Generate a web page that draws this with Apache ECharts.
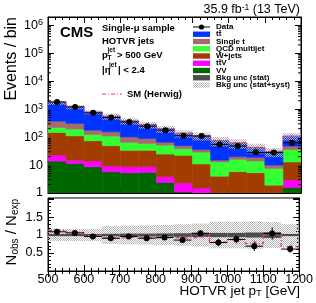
<!DOCTYPE html>
<html><head><meta charset="utf-8">
<script src="https://cdn.jsdelivr.net/npm/echarts@6/dist/echarts.min.js"></script>
<style>html,body{margin:0;padding:0;background:#fff}#c{width:316px;height:303px}</style>
</head><body><div id="c"></div>
<script>
// ---- data ----
const edges   = [500,550,600,650,700,750,800,850,900,950,1000,1050,1100,1150,1200];
const vv      = [13.9,11.5,8.7,5.8,5.3,5.5,2.4,1.1,0.9,0.6,0.5,0.5,0.4,1.6];
const ttv     = [8.9,3.5,5.3,3.4,3.4,3.2,1.4,1.2,0.6,0.4,0.4,0.4,0.3,1.3];
const wjets   = [124,96,60,40,25,25,21,20,9.5,3,4.9,4.4,1.2,10];
const qcd     = [75,83,51,60,31,25,27,16,18,9,10.2,8.7,5.7,23];
const singleT = [151,116,53,46,37,31,14,11,7,2,4,5,2.4,12];
const ttbar   = [1357,880,607,403,276,188,132,87,75,59,41,23,20,60];
const dataObs = [1820,1210,740,505,350,247,178,112,109,55,48,28.5,28,63];
const herwigUp= [1780,1230,790,570,385,285,200,140,114,77,63,43,31,110];
const statRel = [0.03,0.03,0.03,0.035,0.04,0.04,0.045,0.05,0.055,0.06,0.06,0.07,0.08,0.03];
const systRel = [0.17,0.17,0.17,0.25,0.26,0.27,0.28,0.3,0.32,0.37,0.37,0.38,0.36,0.3];
const ratio   = [1.09,1.06,0.96,0.91,0.96,0.91,0.93,0.86,1.05,0.79,0.88,0.69,1.04,0.61];
const ratioErr= [0.02,0.03,0.03,0.04,0.04,0.05,0.06,0.07,0.08,0.1,0.11,0.13,0.17,0.1];
const herwigR = [1.13,1.07,0.99,0.92,0.95,0.92,0.93,0.92,0.97,0.8,0.87,0.76,1.0,0.67];
const herwigRErr=[0.02,0.02,0.02,0.03,0.03,0.03,0.04,0.04,0.05,0.06,0.07,0.08,0.1,0.08];
const xTickLabels = [500,600,700,800,900,1000,1100,1200];

const F = 'Liberation Sans, Arial, Helvetica, sans-serif';
const PINK = '#e8339b';
const comps = [
  {name:'VV', vals:vv, color:'#006600'},
  {name:'ttV', vals:ttv, color:'#ff00ff'},
  {name:'W+jets', vals:wjets, color:'#a33c00'},
  {name:'QCD multijet', vals:qcd, color:'#33ff33'},
  {name:'Single t', vals:singleT, color:'#a86b6b'},
  {name:'tt', vals:ttbar, color:'#0033ff'}
];

// checker pattern for stat+syst
const pat = document.createElement('canvas'); pat.width = 2; pat.height = 2;
(function(){const c = pat.getContext('2d'); c.fillStyle = '#b4b4b4'; c.fillRect(0,0,1,1); c.fillRect(1,1,1,1);})();
const patFill = {image: pat, repeat: 'repeat'};

function rectRender(fill, stroke){
  return function(params, api){
    const x0 = api.value(0), x1 = api.value(1), b = api.value(2), t = api.value(3);
    if (!(t > b)) return null;
    const p0 = api.coord([x0, t]), p1 = api.coord([x1, b]);
    return {type:'rect', shape:{x:p0[0], y:p0[1], width:p1[0]-p0[0], height:p1[1]-p0[1]},
      style:{fill: fill, stroke: stroke || null, lineWidth: stroke ? 0.6 : 0}};
  };
}

const series = [];
// stacked histograms
const cum = edges.slice(0,-1).map(() => 0);
const totals = edges.slice(0,-1).map(() => 0);
comps.forEach(c => c.vals.forEach((v,i) => totals[i] += v));
comps.forEach(c => {
  const rows = c.vals.map((v,i) => {
    const b = Math.max(cum[i], 1), t = cum[i] + v; cum[i] = t;
    return [edges[i], edges[i+1], b, Math.max(t, 1)];
  });
  series.push({type:'custom', name:c.name, xAxisIndex:0, yAxisIndex:0, clip:true,
    renderItem: rectRender(c.color, c.color), data: rows, z: 2});
});
// stat band upper
series.push({type:'custom', xAxisIndex:0, yAxisIndex:0, clip:true, z:3,
  renderItem: rectRender('#4d4d4d'),
  data: totals.map((t,i) => [edges[i], edges[i+1], t*(1-statRel[i]), t*(1+statRel[i])])});
// stat+syst band upper
series.push({type:'custom', xAxisIndex:0, yAxisIndex:0, clip:true, z:4,
  renderItem: rectRender(patFill),
  data: totals.map((t,i) => [edges[i], edges[i+1], t*(1-systRel[i]), t*(1+systRel[i])])});
// Herwig upper
series.push({type:'line', xAxisIndex:0, yAxisIndex:0, step:'end', symbol:'none', z:5,
  lineStyle:{color:PINK, width:1, type:[4,2,1,2]},
  data: herwigUp.map((v,i) => [edges[i], v]).concat([[edges[edges.length-1], herwigUp[herwigUp.length-1]]])});

function pointRender(color, r){
  return function(params, api){
    const x0 = api.value(0), x1 = api.value(1), y = api.value(2), lo = api.value(3), hi = api.value(4);
    const xc = (x0 + x1) / 2;
    const pa = api.coord([x0, y]), pb = api.coord([x1, y]), pc = api.coord([xc, y]);
    const pl = api.coord([xc, lo]), ph = api.coord([xc, hi]);
    return {type:'group', children:[
      {type:'line', shape:{x1:pa[0], y1:pa[1], x2:pb[0], y2:pb[1]}, style:{stroke:color, lineWidth:1}},
      {type:'line', shape:{x1:pl[0], y1:pl[1], x2:ph[0], y2:ph[1]}, style:{stroke:color, lineWidth:1}},
      {type:'circle', shape:{cx:pc[0], cy:pc[1], r:r}, style:{fill:color}}
    ]};
  };
}
// data upper
series.push({type:'custom', xAxisIndex:0, yAxisIndex:0, clip:true, z:6,
  renderItem: pointRender('#000', 3),
  data: dataObs.map((v,i) => [edges[i], edges[i+1], v, v - Math.sqrt(v), v + Math.sqrt(v)])});

// log minor ticks
const minorVals = [];
for (let e = 0; e <= 6; e++) for (let k = 2; k <= 9; k++) { const v = k * Math.pow(10, e); if (v < 2e6) minorVals.push(v); }
series.push({type:'custom', xAxisIndex:0, yAxisIndex:0, clip:false, z:7,
  renderItem: function(params, api){
    const v = api.value(0);
    const l = api.coord([500, v]), r = api.coord([1200, v]);
    return {type:'group', children:[
      {type:'line', shape:{x1:l[0], y1:l[1], x2:l[0]+3, y2:l[1]}, style:{stroke:'#000', lineWidth:1}},
      {type:'line', shape:{x1:r[0], y1:r[1], x2:r[0]-3, y2:r[1]}, style:{stroke:'#000', lineWidth:1}}
    ]};
  },
  data: minorVals.map(v => [v])});

// ratio panel
series.push({type:'custom', xAxisIndex:2, yAxisIndex:2, clip:true, z:2,
  renderItem: rectRender(patFill),
  data: systRel.map((s,i) => [edges[i], edges[i+1], 1-s, 1+s])});
series.push({type:'custom', xAxisIndex:2, yAxisIndex:2, clip:true, z:3,
  renderItem: rectRender('#4d4d4d'),
  data: statRel.map((s,i) => [edges[i], edges[i+1], 1-s, 1+s])});
series.push({type:'line', xAxisIndex:2, yAxisIndex:2, step:'end', symbol:'none', z:4,
  lineStyle:{color:PINK, width:1.3, type:[4,2,1,2]},
  data: herwigR.map((v,i) => [edges[i], v]).concat([[edges[edges.length-1], herwigR[herwigR.length-1]]])});
series.push({type:'custom', xAxisIndex:2, yAxisIndex:2, clip:true, z:4,
  renderItem: function(params, api){
    const xc = (api.value(0) + api.value(1)) / 2 + 4;
    const a = api.coord([xc, api.value(2)]), b = api.coord([xc, api.value(3)]);
    return {type:'line', shape:{x1:a[0], y1:a[1], x2:b[0], y2:b[1]}, style:{stroke:PINK, lineWidth:1.2, lineDash:[2,1]}};
  },
  data: herwigR.map((v,i) => [edges[i], edges[i+1], v - herwigRErr[i], v + herwigRErr[i]])});
series.push({type:'custom', xAxisIndex:2, yAxisIndex:2, clip:true, z:6,
  renderItem: pointRender('#000', 3),
  data: ratio.map((v,i) => [edges[i], edges[i+1], v, v - ratioErr[i], v + ratioErr[i]])});

const axLine = {show:true, lineStyle:{color:'#000', width:1}};
function xAx(grid, pos, labels){
  return {type:'value', gridIndex:grid, position:pos, min:500, max:1200, interval:100,
    axisLine:axLine, splitLine:{show:false},
    axisTick:{show:true, inside:true, length:6, lineStyle:{color:'#000'}},
    minorTick:{show:true, splitNumber:5, length:3, lineStyle:{color:'#000'}},
    axisLabel:{show:labels, color:'#000', fontFamily:F, fontSize:12.5, margin:2,
      formatter: v => (xTickLabels.indexOf(v) >= 0 ? String(v) : '')}};
}
function logAx(pos, labels){
  return {type:'log', logBase:10, gridIndex:0, position:pos, min:1, max:2e6, interval:1,
    axisLine:axLine, splitLine:{show:false},
    axisTick:{show:true, inside:true, length:6, lineStyle:{color:'#000'}},
    axisLabel:{show:labels, margin:5, color:'#000',
      formatter: function(v){
        const e = Math.round(Math.log10(v));
        if (Math.abs(Math.log10(v) - e) > 1e-6) return '';
        if (e === 0) return '{a|1}';
        if (e === 1) return '{a|10}';
        return '{a|10}{s|' + e + '}';
      },
      rich:{a:{fontFamily:F, fontSize:12.5, lineHeight:14, color:'#000'},
            s:{fontFamily:F, fontSize:9, lineHeight:9, verticalAlign:'top', color:'#000'}}}};
}
function ratAx(pos, labels){
  return {type:'value', gridIndex:1, position:pos, min:0, max:2.03, interval:0.5,
    axisLine:axLine, splitLine:{show:false},
    axisTick:{show:true, inside:true, length:6, lineStyle:{color:'#000'}},
    minorTick:{show:true, splitNumber:5, length:3, lineStyle:{color:'#000'}},
    axisLabel:{show:labels, margin:5, color:'#000', fontFamily:F, fontSize:12.5,
      formatter: v => (Math.abs(v-0.5)<1e-6 ? '0.5' : Math.abs(v-1)<1e-6 ? '1' : Math.abs(v-1.5)<1e-6 ? '1.5' : '')}};
}

// legend + texts
const legTop = 27, legStep = 7.25, LX = 193, LW = 17, TX = 216;
const legItems = [
  {label:'Data', kind:'data'},
  {label:'tt\u0304', color:'#0033ff'},
  {label:'Single t', color:'#a86b6b'},
  {label:'QCD multijet', color:'#33ff33'},
  {label:'W+jets', color:'#a33c00'},
  {label:'tt\u0304V', color:'#ff00ff'},
  {label:'VV', color:'#006600'},
  {label:'Bkg unc (stat)', color:'#4d4d4d'},
  {label:'Bkg unc (stat+syst)', color:patFill}
];
const graphics = [];
const LF = 'bold 8px ' + F;
legItems.forEach((it, k) => {
  const y = legTop + k * legStep;
  if (it.kind === 'data') {
    graphics.push({type:'line', shape:{x1:LX, y1:y, x2:LX+LW, y2:y}, style:{stroke:'#000', lineWidth:1}});
    graphics.push({type:'circle', shape:{cx:LX+LW/2, cy:y, r:2.6}, style:{fill:'#000'}});
  } else {
    graphics.push({type:'rect', shape:{x:LX, y:y-2.7, width:LW, height:5.4}, style:{fill:it.color}});
  }
  graphics.push({type:'text', x:TX, y:y, style:{text:it.label, font:LF, fill:'#000', align:'left', verticalAlign:'middle', textAlign:'left', textVerticalAlign:'middle'}});
});
function txt(x, y, s, font, align, extra){
  return Object.assign({type:'text', x:x, y:y, style:{text:s, font:font, fill:'#000', align:align||'left', verticalAlign:'middle', textAlign:align||'left', textVerticalAlign:'middle'}}, extra||{});
}
const IF = 'bold 9.5px ' + F, IS = 'bold 6.5px ' + F;
graphics.push(txt(60, 33, 'CMS', 'bold 15px ' + F));
graphics.push(txt(102, 28, 'Single-\u03bc sample', IF));
graphics.push(txt(102, 41, 'HOTVR jets', IF));
graphics.push(txt(102, 55, 'p', IF));
graphics.push(txt(107.5, 58, 'T', IS));
graphics.push(txt(107.5, 50, 'jet', IS));
graphics.push(txt(117, 55, '> 500 GeV', IF));
graphics.push(txt(102, 70, '|\u03b7', IF));
graphics.push(txt(109, 65.5, 'jet', IS));
graphics.push(txt(118, 70, '| < 2.4', IF));
graphics.push({type:'line', shape:{x1:102, y1:94, x2:122, y2:94}, style:{stroke:PINK, lineWidth:1.2, lineDash:[4,2,1,2]}});
graphics.push(txt(127, 94, 'SM (Herwig)', IF));
graphics.push({type:'text', x:300, y:10, style:{text:'{a|35.9 fb}{s|-1}{a| (13 TeV)}', align:'right', verticalAlign:'middle', textAlign:'right', textVerticalAlign:'middle',
  rich:{a:{fontFamily:F, fontSize:12.5, lineHeight:14, fill:'#000', color:'#000'}, s:{fontFamily:F, fontSize:8.5, lineHeight:9, verticalAlign:'top', fill:'#000', color:'#000'}}}});
graphics.push({type:'text', x:300, y:291, style:{text:'{a|HOTVR jet p}{s|T}{a| [GeV]}', align:'right', verticalAlign:'middle', textAlign:'right', textVerticalAlign:'middle',
  rich:{a:{fontFamily:F, fontSize:13.5, lineHeight:15, color:'#000'}, s:{fontFamily:F, fontSize:9.5, lineHeight:10, verticalAlign:'bottom', color:'#000'}}}});
graphics.push({type:'text', x:12, y:17, rotation:Math.PI/2, style:{text:'Events / bin', font:'16px ' + F, fill:'#000', align:'right', verticalAlign:'middle', textAlign:'right', textVerticalAlign:'middle'}});
graphics.push({type:'text', x:12, y:199, rotation:Math.PI/2, style:{text:'{a|N}{s|obs}{a| / N}{s|exp}', align:'right', verticalAlign:'middle', textAlign:'right', textVerticalAlign:'middle',
  rich:{a:{fontFamily:F, fontSize:15, lineHeight:16, color:'#000'}, s:{fontFamily:F, fontSize:10, lineHeight:10, verticalAlign:'bottom', color:'#000'}}}});

const chart = echarts.init(document.getElementById('c'), null, {renderer:'canvas'});
chart.setOption({
  animation:false,
  backgroundColor:'#fff',
  grid:[
    {left:48, right:15, top:17, height:176, show:true, borderColor:'#000', borderWidth:1, backgroundColor:'transparent'},
    {left:48, right:15, top:198, height:73, show:true, borderColor:'#000', borderWidth:1, backgroundColor:'transparent'}
  ],
  xAxis:[xAx(0,'bottom',false), xAx(0,'top',false), xAx(1,'bottom',true), xAx(1,'top',false)],
  yAxis:[logAx('left',true), logAx('right',false), ratAx('left',true), ratAx('right',false)],
  series: series,
  graphic: graphics
});
</script></body></html>
